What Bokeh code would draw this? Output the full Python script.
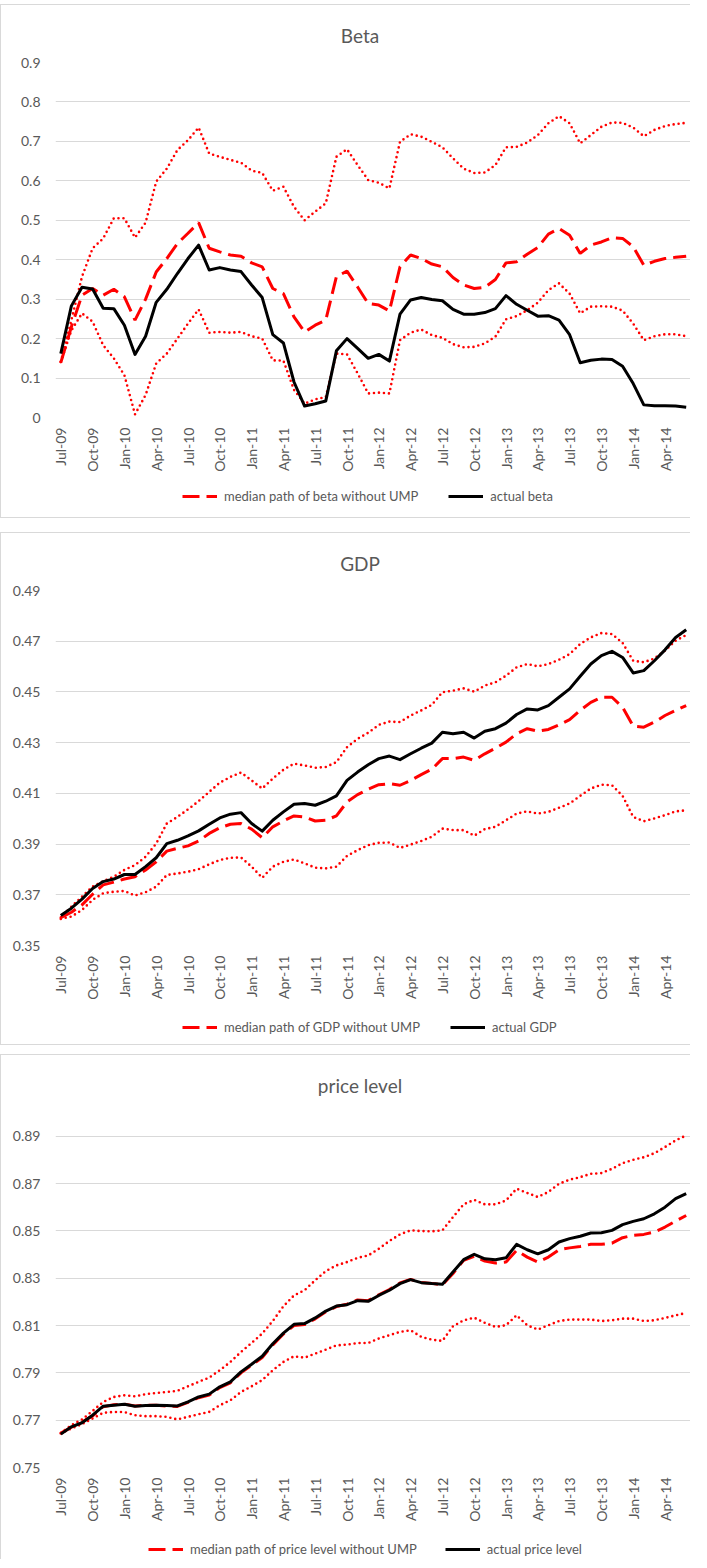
from math import pi
from bokeh.plotting import figure
from bokeh.models import (FixedTicker, NumeralTickFormatter, Legend, LegendItem,
                          Range1d, Spacer)
from bokeh.layouts import column
from bokeh.embed import file_html
from bokeh.resources import INLINE

# ---------------- data ----------------
months = list(range(60))  # Jul-09 ... Jun-14 (monthly)
x_tick_labels = ["Jul-09", "Oct-09", "Jan-10", "Apr-10", "Jul-10", "Oct-10", "Jan-11",
                 "Apr-11", "Jul-11", "Oct-11", "Jan-12", "Apr-12", "Jul-12", "Oct-12",
                 "Jan-13", "Apr-13", "Jul-13", "Oct-13", "Jan-14", "Apr-14"]

beta_actual = [0.162, 0.283, 0.330, 0.326, 0.277, 0.276, 0.234, 0.160, 0.206, 0.292,
               0.325, 0.365, 0.403, 0.437, 0.374, 0.380, 0.374, 0.370, 0.336, 0.304,
               0.210, 0.189, 0.090, 0.029, 0.035, 0.042, 0.169, 0.200, 0.175, 0.150,
               0.160, 0.143, 0.262, 0.298, 0.304, 0.299, 0.296, 0.274, 0.262, 0.262,
               0.266, 0.276, 0.309, 0.287, 0.272, 0.257, 0.258, 0.247, 0.210, 0.139,
               0.145, 0.148, 0.147, 0.130, 0.086, 0.032, 0.030, 0.030, 0.029, 0.026]
beta_median = [0.139, 0.230, 0.310, 0.327, 0.310, 0.325, 0.306, 0.247, 0.300, 0.369,
               0.403, 0.441, 0.467, 0.494, 0.429, 0.420, 0.412, 0.409, 0.392, 0.382,
               0.327, 0.314, 0.255, 0.217, 0.234, 0.247, 0.357, 0.371, 0.331, 0.289,
               0.285, 0.270, 0.382, 0.412, 0.403, 0.389, 0.382, 0.355, 0.336, 0.327,
               0.330, 0.350, 0.392, 0.395, 0.414, 0.431, 0.465, 0.479, 0.462, 0.416,
               0.437, 0.445, 0.456, 0.454, 0.433, 0.386, 0.396, 0.403, 0.406, 0.409]
beta_upper = [0.141, 0.247, 0.357, 0.429, 0.454, 0.505, 0.505, 0.456, 0.494, 0.598,
              0.631, 0.678, 0.703, 0.735, 0.669, 0.661, 0.653, 0.646, 0.626, 0.620,
              0.575, 0.585, 0.534, 0.500, 0.522, 0.543, 0.661, 0.680, 0.640, 0.602,
              0.595, 0.581, 0.699, 0.718, 0.712, 0.699, 0.685, 0.657, 0.631, 0.620,
              0.621, 0.640, 0.685, 0.686, 0.697, 0.716, 0.746, 0.764, 0.746, 0.695,
              0.716, 0.737, 0.748, 0.747, 0.735, 0.713, 0.729, 0.739, 0.744, 0.747]
beta_lower = [0.141, 0.221, 0.264, 0.243, 0.183, 0.150, 0.107, 0.008, 0.057, 0.137,
              0.162, 0.200, 0.238, 0.274, 0.215, 0.217, 0.215, 0.217, 0.206, 0.200,
              0.145, 0.144, 0.070, 0.035, 0.046, 0.052, 0.162, 0.160, 0.112, 0.061,
              0.063, 0.061, 0.196, 0.215, 0.223, 0.209, 0.202, 0.186, 0.178, 0.179,
              0.188, 0.205, 0.249, 0.257, 0.272, 0.291, 0.323, 0.340, 0.314, 0.264,
              0.281, 0.282, 0.281, 0.271, 0.238, 0.196, 0.206, 0.211, 0.211, 0.206]

gdp_actual = [0.3618, 0.3647, 0.3683, 0.3725, 0.3752, 0.3762, 0.3780, 0.3780, 0.3811, 0.3846,
              0.3902, 0.3915, 0.3932, 0.3952, 0.3978, 0.4003, 0.4018, 0.4024, 0.3981, 0.3951,
              0.3994, 0.4027, 0.4057, 0.4060, 0.4053, 0.4069, 0.4090, 0.4151, 0.4184, 0.4213,
              0.4237, 0.4247, 0.4233, 0.4256, 0.4278, 0.4298, 0.4341, 0.4335, 0.4341, 0.4318,
              0.4345, 0.4355, 0.4377, 0.4411, 0.4433, 0.4429, 0.4446, 0.4479, 0.4512, 0.4562,
              0.4610, 0.4643, 0.4660, 0.4636, 0.4575, 0.4584, 0.4623, 0.4666, 0.4715, 0.4745]
gdp_median = [0.3610, 0.3631, 0.3660, 0.3702, 0.3739, 0.3750, 0.3762, 0.3771, 0.3798, 0.3830,
              0.3872, 0.3883, 0.3893, 0.3912, 0.3942, 0.3964, 0.3978, 0.3981, 0.3959, 0.3925,
              0.3968, 0.3991, 0.4011, 0.4007, 0.3991, 0.3994, 0.4011, 0.4066, 0.4095, 0.4116,
              0.4134, 0.4138, 0.4132, 0.4151, 0.4174, 0.4195, 0.4237, 0.4237, 0.4243, 0.4230,
              0.4256, 0.4278, 0.4302, 0.4335, 0.4355, 0.4345, 0.4352, 0.4370, 0.4391, 0.4427,
              0.4459, 0.4479, 0.4479, 0.4440, 0.4365, 0.4361, 0.4381, 0.4407, 0.4427, 0.4446]
gdp_upper = [0.3610, 0.3653, 0.3693, 0.3732, 0.3754, 0.3771, 0.3798, 0.3817, 0.3850, 0.3902,
             0.3981, 0.4007, 0.4037, 0.4069, 0.4106, 0.4142, 0.4165, 0.4182, 0.4151, 0.4119,
             0.4158, 0.4193, 0.4217, 0.4210, 0.4201, 0.4204, 0.4223, 0.4282, 0.4315, 0.4339,
             0.4370, 0.4383, 0.4381, 0.4407, 0.4427, 0.4449, 0.4499, 0.4505, 0.4514, 0.4501,
             0.4525, 0.4538, 0.4564, 0.4597, 0.4610, 0.4601, 0.4610, 0.4627, 0.4649, 0.4689,
             0.4715, 0.4732, 0.4728, 0.4693, 0.4623, 0.4617, 0.4632, 0.4663, 0.4702, 0.4724]
gdp_lower = [0.3605, 0.3614, 0.3640, 0.3680, 0.3706, 0.3712, 0.3715, 0.3697, 0.3710, 0.3732,
             0.3778, 0.3784, 0.3791, 0.3801, 0.3820, 0.3837, 0.3846, 0.3847, 0.3811, 0.3767,
             0.3811, 0.3830, 0.3839, 0.3824, 0.3807, 0.3804, 0.3811, 0.3853, 0.3876, 0.3896,
             0.3905, 0.3906, 0.3885, 0.3898, 0.3912, 0.3929, 0.3961, 0.3955, 0.3955, 0.3933,
             0.3959, 0.3968, 0.3994, 0.4020, 0.4029, 0.4020, 0.4027, 0.4043, 0.4060, 0.4090,
             0.4119, 0.4134, 0.4132, 0.4090, 0.4007, 0.3990, 0.4001, 0.4014, 0.4029, 0.4033]

price_actual = [0.7641, 0.7672, 0.7689, 0.7721, 0.7759, 0.7763, 0.7767, 0.7759, 0.7762, 0.7763,
                0.7762, 0.7760, 0.7777, 0.7798, 0.7810, 0.7841, 0.7862, 0.7904, 0.7936, 0.7970,
                0.8023, 0.8068, 0.8105, 0.8108, 0.8132, 0.8161, 0.8182, 0.8188, 0.8205, 0.8202,
                0.8227, 0.8249, 0.8277, 0.8294, 0.8281, 0.8277, 0.8274, 0.8326, 0.8378, 0.8401,
                0.8382, 0.8378, 0.8386, 0.8443, 0.8420, 0.8403, 0.8420, 0.8453, 0.8467, 0.8477,
                0.8491, 0.8492, 0.8502, 0.8526, 0.8540, 0.8551, 0.8572, 0.8600, 0.8636, 0.8657]
price_median = [0.7645, 0.7670, 0.7692, 0.7718, 0.7757, 0.7765, 0.7768, 0.7760, 0.7763, 0.7763,
                0.7760, 0.7758, 0.7775, 0.7795, 0.7806, 0.7838, 0.7858, 0.7900, 0.7932, 0.7965,
                0.8018, 0.8064, 0.8100, 0.8104, 0.8128, 0.8158, 0.8180, 0.8190, 0.8208, 0.8205,
                0.8230, 0.8252, 0.8280, 0.8295, 0.8282, 0.8278, 0.8272, 0.8320, 0.8375, 0.8392,
                0.8372, 0.8364, 0.8368, 0.8417, 0.8389, 0.8368, 0.8389, 0.8420, 0.8428, 0.8434,
                0.8443, 0.8443, 0.8448, 0.8471, 0.8481, 0.8485, 0.8495, 0.8516, 0.8541, 0.8565]
price_upper = [0.7646, 0.7679, 0.7703, 0.7739, 0.7777, 0.7798, 0.7805, 0.7801, 0.7810, 0.7815,
               0.7819, 0.7824, 0.7843, 0.7862, 0.7880, 0.7911, 0.7946, 0.7988, 0.8026, 0.8066,
               0.8119, 0.8181, 0.8227, 0.8249, 0.8291, 0.8330, 0.8354, 0.8368, 0.8386, 0.8396,
               0.8424, 0.8457, 0.8485, 0.8502, 0.8499, 0.8498, 0.8502, 0.8558, 0.8612, 0.8631,
               0.8612, 0.8612, 0.8628, 0.8678, 0.8660, 0.8643, 0.8664, 0.8699, 0.8716, 0.8727,
               0.8741, 0.8744, 0.8762, 0.8786, 0.8800, 0.8811, 0.8828, 0.8854, 0.8882, 0.8903]
price_lower = [0.7644, 0.7665, 0.7683, 0.7707, 0.7731, 0.7735, 0.7734, 0.7721, 0.7717, 0.7717,
               0.7714, 0.7703, 0.7714, 0.7725, 0.7735, 0.7763, 0.7784, 0.7819, 0.7843, 0.7869,
               0.7911, 0.7946, 0.7970, 0.7964, 0.7981, 0.7998, 0.8016, 0.8019, 0.8026, 0.8026,
               0.8045, 0.8059, 0.8073, 0.8080, 0.8052, 0.8040, 0.8035, 0.8097, 0.8122, 0.8133,
               0.8111, 0.8094, 0.8101, 0.8143, 0.8101, 0.8083, 0.8101, 0.8119, 0.8125, 0.8125,
               0.8125, 0.8119, 0.8122, 0.8129, 0.8129, 0.8119, 0.8122, 0.8132, 0.8143, 0.8153]

beta_yticks = [0, 0.1, 0.2, 0.3, 0.4, 0.5, 0.6, 0.7, 0.8, 0.9]
gdp_yticks = [0.35, 0.37, 0.39, 0.41, 0.43, 0.45, 0.47, 0.49]
price_yticks = [0.75, 0.77, 0.79, 0.81, 0.83, 0.85, 0.87, 0.89]

# ---------------- styling ----------------
FONT = "Lato"
TXT = "#595959"
GRID = "#D9D9D9"
RED = "#FF0000"
BORDER = "1px solid #D9D9D9"
W = 690

MED_STYLE = dict(line_color=RED, line_width=3, line_dash="17 7")
ACT_STYLE = dict(line_color="black", line_width=3, line_join="round")
BAND_STYLE = dict(line_color=RED, line_width=2.6, line_dash="0 5", line_cap="round")


def main_plot(title, actual, median, upper, lower, y_range, yticks, yfmt, height,
              left, top, frame_h, title_pad_right):
    bottom = height - top - frame_h
    p = figure(width=W, height=height, output_backend="svg", toolbar_location=None,
               x_range=Range1d(-0.5, 59.5), y_range=Range1d(*y_range),
               min_border_left=left, min_border_right=0, min_border_top=top,
               min_border_bottom=bottom)
    p.outline_line_color = None
    p.background_fill_color = "white"
    p.border_fill_color = "white"
    p.styles = {"border-left": BORDER, "border-top": BORDER}

    p.title.text = title
    p.title.align = "center"
    p.title.standoff = 32
    p.title.padding = dict(left=0, right=title_pad_right, top=0, bottom=0)
    p.title.text_font = FONT
    p.title.text_font_size = "19px"
    p.title.text_font_style = "normal"
    p.title.text_color = TXT

    p.xgrid.visible = False
    p.ygrid.grid_line_color = GRID
    p.ygrid.grid_line_width = 1.2

    xa = p.xaxis[0]
    xa.ticker = FixedTicker(ticks=list(range(0, 60, 3)))
    xa.major_label_overrides = {i * 3: lab for i, lab in enumerate(x_tick_labels)}
    xa.major_label_orientation = pi / 2
    xa.axis_line_color = None
    xa.major_tick_line_color = None
    xa.minor_tick_line_color = None
    xa.major_tick_out = 0
    xa.major_tick_in = 0
    xa.major_label_standoff = 10
    xa.major_label_text_font = FONT
    xa.major_label_text_font_size = "14px"
    xa.major_label_text_color = TXT

    ya = p.yaxis[0]
    ya.ticker = FixedTicker(ticks=yticks)
    ya.formatter = NumeralTickFormatter(format=yfmt)
    ya.axis_line_color = None
    ya.major_tick_line_color = None
    ya.minor_tick_line_color = None
    ya.major_tick_out = 0
    ya.major_tick_in = 0
    ya.major_label_standoff = 15
    ya.major_label_text_font = FONT
    ya.major_label_text_font_size = "14px"
    ya.major_label_text_color = TXT

    p.line(months, upper, **BAND_STYLE)
    p.line(months, lower, **BAND_STYLE)
    p.line(months, median, **MED_STYLE)
    p.line(months, actual, **ACT_STYLE)
    return p


def legend_plot(labels, median, actual, height, vx, vy, spacing, bottom_border):
    # legend strip: the series are drawn off-range here, only their legend swatches show
    lp = figure(width=W, height=height, output_backend="svg", toolbar_location=None,
                x_range=Range1d(0, 59), y_range=Range1d(-3, -2),
                x_axis_type=None, y_axis_type=None,
                min_border_left=0, min_border_right=0, min_border_top=0,
                min_border_bottom=0)
    lp.outline_line_color = None
    lp.xgrid.visible = False
    lp.ygrid.visible = False
    lp.background_fill_color = "white"
    lp.border_fill_color = "white"
    st = {"border-left": BORDER}
    if bottom_border:
        st["border-bottom"] = BORDER
    lp.styles = st
    r_med = lp.line(months, median, **MED_STYLE)
    r_act = lp.line(months, actual, **ACT_STYLE)
    legend = Legend(items=[LegendItem(label=labels[0], renderers=[r_med]),
                           LegendItem(label=labels[1], renderers=[r_act])],
                    orientation="horizontal", location=(vx, vy), padding=0, margin=0,
                    spacing=spacing, glyph_width=35, glyph_height=20, label_height=20,
                    label_standoff=7, border_line_color=None, background_fill_alpha=0,
                    label_text_font=FONT, label_text_font_size="13px",
                    label_text_color=TXT)
    lp.add_layout(legend)
    return lp


p1 = main_plot("Beta", beta_actual, beta_median, beta_upper, beta_lower, (0, 0.9),
               beta_yticks, "0.[0]", 476, 45, 57, 355, 27)
l1 = legend_plot(("median path of beta without UMP", "actual beta"),
                 beta_median, beta_actual, 38, 127, 12, 30, True)

p2 = main_plot("GDP", gdp_actual, gdp_median, gdp_upper, gdp_lower, (0.35, 0.49),
               gdp_yticks, "0.00", 475, 54, 56, 356, 27)
l2 = legend_plot(("median path of GDP without UMP", "actual GDP"),
                 gdp_median, gdp_actual, 38, 127, 8, 30, True)

p3 = main_plot("price level", price_actual, price_median, price_upper, price_lower,
               (0.75, 0.90), price_yticks, "0.00", 475, 54, 56, 356, 27)
l3 = legend_plot(("median path of price level without UMP", "actual price level"),
                 price_median, price_actual, 30, 93, 0, 28, False)

layout = column(Spacer(height=4), p1, l1, Spacer(height=14), p2, l2, Spacer(height=9),
                p3, l3, spacing=0)

open("out.html", "w").write(file_html(layout, INLINE))
